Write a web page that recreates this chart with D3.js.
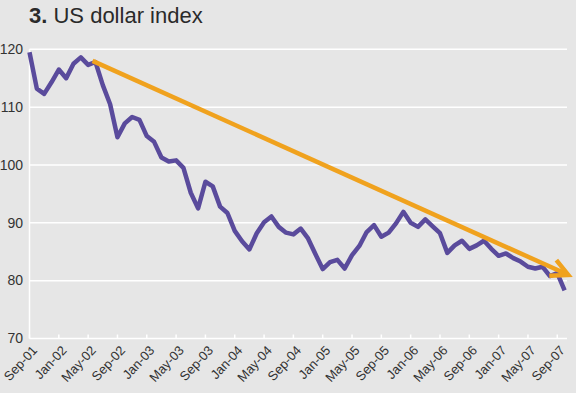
<!DOCTYPE html>
<html>
<head>
<meta charset="utf-8">
<script src="https://cdn.jsdelivr.net/npm/d3@7"></script>
<style>
  html, body { margin: 0; padding: 0; background: #e6e6e6; }
  svg { display: block; }
</style>
</head>
<body>
<div id="chart"></div>
<script>
// ---- Data ----
const titleNumber = "3.";
const titleText = " US dollar index";

// Monthly categories Sep-01 .. Oct-07
const months = d3.timeMonth.range(new Date(2001, 8, 1), new Date(2007, 10, 1));
const fmt = d3.timeFormat("%b-%y");
const categories = months.map(fmt);

// US dollar index
const values = [
  119.5, 113.2, 112.3, 114.3, 116.5, 115.0, 117.5, 118.6, 117.3, 117.8,
  113.8, 110.5, 104.8, 107.2, 108.3, 107.8, 105.0, 104.0, 101.3, 100.6,
  100.8, 99.5, 95.2, 92.5, 97.1, 96.3, 92.8, 91.7, 88.6, 86.8,
  85.4, 88.2, 90.1, 91.1, 89.3, 88.3, 88.0, 89.0, 87.3, 84.6,
  82.0, 83.2, 83.6, 82.1, 84.4, 86.0, 88.4, 89.6, 87.6, 88.3,
  89.9, 91.9, 90.0, 89.3, 90.6, 89.4, 88.2, 84.8, 86.1, 86.9,
  85.5, 86.1, 86.9, 85.5, 84.3, 84.7, 83.9, 83.3, 82.4, 82.1,
  82.4, 80.8, 81.3, 78.3
];

// Trend arrow (category position, value)
const trendStart = { pos: 8.6, value: 118.0 };
const trendEnd = { pos: 73.5, value: 81.0 };

const yTicks = [70, 80, 90, 100, 110, 120];
const xTickEvery = 4;

// ---- Layout ----
const W = 576, H = 393;
const left = 29.5, right = 567;
const firstX = 29.5, lastX = 564.6;
const yTop = 49.3, yBottom = 338.5;

const svg = d3.select("#chart").append("svg")
  .attr("width", W).attr("height", H);

svg.append("rect").attr("width", W).attr("height", H).attr("fill", "#e6e6e6");

const x = d3.scalePoint().domain(categories).range([firstX, lastX]);
const step = x.step();
const xPos = p => firstX + p * step;
const y = d3.scaleLinear().domain([70, 120]).range([yBottom, yTop]);

// Title
const title = svg.append("text")
  .attr("x", 29).attr("y", 23)
  .attr("font-family", "'Liberation Sans Narrow', 'Arial Narrow', sans-serif")
  .attr("font-size", 22).attr("fill", "#2a2a2a");
title.append("tspan").attr("font-weight", "bold").text(titleNumber);
title.append("tspan").text(titleText);

// Gridlines
svg.append("g").selectAll("line").data(yTicks).join("line")
  .attr("x1", left).attr("x2", right)
  .attr("y1", d => y(d)).attr("y2", d => y(d))
  .attr("stroke", "#ffffff").attr("stroke-width", 1.5);

// Y axis line
svg.append("line")
  .attr("x1", left).attr("x2", left)
  .attr("y1", y(120)).attr("y2", y(70))
  .attr("stroke", "#ffffff").attr("stroke-width", 1.5);

// Y labels
const yAxis = d3.axisLeft(y).tickValues(yTicks).tickSize(0).tickPadding(0);
const gy = svg.append("g").attr("transform", "translate(23,0)").call(yAxis);
gy.select(".domain").remove();
gy.selectAll("text")
  .attr("font-family", "'Liberation Sans', Arial, sans-serif")
  .attr("font-size", 14).attr("fill", "#333")
  .attr("dy", "0.3em");

// X ticks (small white marks inside)
const tickCats = categories.filter((d, i) => i % xTickEvery === 0);
svg.append("g").selectAll("line").data(tickCats).join("line")
  .attr("x1", d => x(d)).attr("x2", d => x(d))
  .attr("y1", y(70)).attr("y2", y(70) - 4)
  .attr("stroke", "#ffffff").attr("stroke-width", 1.5);

// X labels
svg.append("g").selectAll("text").data(tickCats).join("text")
  .attr("transform", d => `translate(${x(d) + 8.5},351) rotate(-47)`)
  .attr("text-anchor", "end")
  .attr("font-family", "'Liberation Sans Narrow', 'Arial Narrow', sans-serif")
  .attr("font-size", 13).attr("fill", "#333")
  .text(d => d);

// Data line
const line = d3.line()
  .x((d, i) => x(categories[i]))
  .y(d => y(d));
svg.append("path").datum(values)
  .attr("d", line)
  .attr("fill", "none")
  .attr("stroke", "#5a4b9c")
  .attr("stroke-width", 4.5)
  .attr("stroke-linejoin", "round")
  .attr("stroke-linecap", "butt");

// Trend arrow
const sx = xPos(trendStart.pos), sy = y(trendStart.value);
const ex = xPos(trendEnd.pos), ey = y(trendEnd.value);
const ang = Math.atan2(ey - sy, ex - sx);
const headLen = 19, headAng = 27 * Math.PI / 180;
const orange = "#f0a21e";
svg.append("line")
  .attr("x1", sx).attr("y1", sy).attr("x2", ex - 2 * Math.cos(ang)).attr("y2", ey - 2 * Math.sin(ang))
  .attr("stroke", orange).attr("stroke-width", 4.5);
const h1x = ex - headLen * Math.cos(ang - headAng), h1y = ey - headLen * Math.sin(ang - headAng);
const h2x = ex - headLen * Math.cos(ang + headAng), h2y = ey - headLen * Math.sin(ang + headAng);
svg.append("path")
  .attr("d", `M${h1x},${h1y}L${ex},${ey}L${h2x},${h2y}`)
  .attr("fill", "none").attr("stroke", orange).attr("stroke-width", 4.5)
  .attr("stroke-linejoin", "miter");
</script>
</body>
</html>
